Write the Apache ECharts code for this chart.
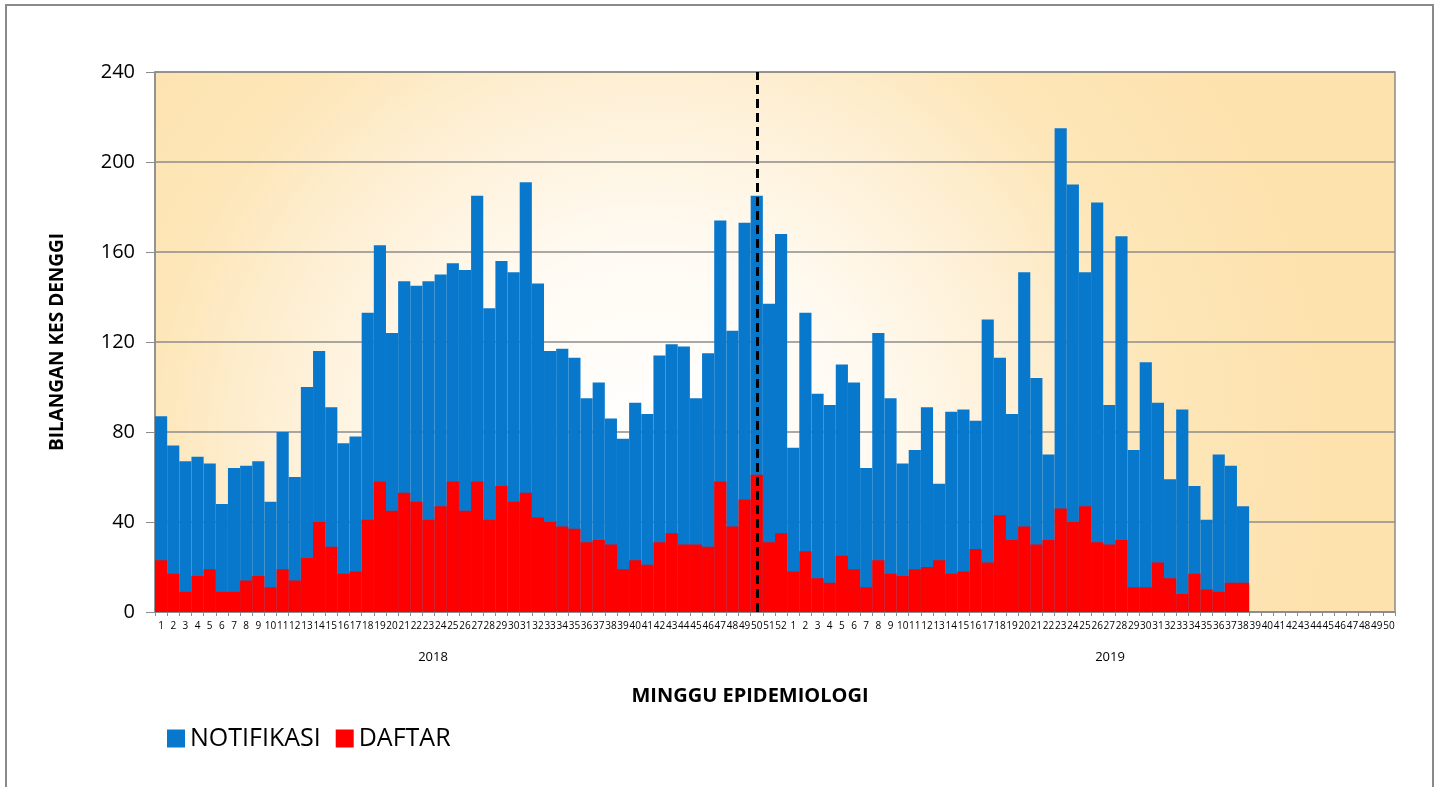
<!DOCTYPE html>
<html lang="ms">
<head>
<meta charset="UTF-8">
<title>Kes Denggi</title>
<script src="https://cdn.jsdelivr.net/npm/echarts@6/dist/echarts.min.js"></script>
<style>
  html, body { margin: 0; padding: 0; background: #fff; }
</style>
</head>
<body>
<div id="main" style="width:1442px;height:787px;"></div>
<script type="text/javascript">
// minggu epidemiologi
var weeks2018 = [1,2,3,4,5,6,7,8,9,10,11,12,13,14,15,16,17,18,19,20,21,22,23,24,25,26,
                 27,28,29,30,31,32,33,34,35,36,37,38,39,40,41,42,43,44,45,46,47,48,49,50,51,52];
var weeks2019 = [1,2,3,4,5,6,7,8,9,10,11,12,13,14,15,16,17,18,19,20,21,22,23,24,25,
                 26,27,28,29,30,31,32,33,34,35,36,37,38,39,40,41,42,43,44,45,46,47,48,49,50];
var years = ['2018', '2019'];

// kes notifikasi (biru)
var notif2018 = [87,74,67,69,66,48,64,65,67,49,80,60,100,116,91,75,78,133,163,124,
                 147,145,147,150,155,152,185,135,156,151,191,146,116,117,113,95,102,86,77,93,
                 88,114,119,118,95,115,174,125,173,185,137,168];
var notif2019 = [73,133,97,92,110,102,64,124,95,66,72,91,57,89,90,85,130,113,88,151,
                 104,70,215,190,151,182,92,167,72,111,93,59,90,56,41,70,65,47];

// kes daftar (merah)
var daftar2018 = [23,17,9,16,19,9,9,14,16,11,19,14,24,40,29,17,18,41,58,45,
                  53,49,41,47,58,45,58,41,56,49,53,42,40,38,37,31,32,30,19,23,
                  21,31,35,30,30,29,58,38,50,61,31,35];
var daftar2019 = [18,27,15,13,25,19,11,23,17,16,19,20,23,17,18,28,22,43,32,38,
                  30,32,46,40,47,31,30,32,11,11,22,15,8,17,10,9,13,13];

var yTicks = [0, 40, 80, 120, 160, 200, 240];
var splitWeek = 50; // garis putus-putus, minggu 50 tahun 2018

var categories = weeks2018.concat(weeks2019).map(String);
function pad(arr) {
    var out = arr.slice();
    while (out.length < weeks2019.length) out.push(null);
    return out;
}
var notifData = notif2018.concat(pad(notif2019));
var daftarData = daftar2018.concat(pad(daftar2019));

var myChart = echarts.init(document.getElementById('main'));

var option = {
    animation: false,
    textStyle: { fontFamily: '"Open Sans", "Noto Sans", sans-serif' },
    graphic: [
        {
            type: 'rect', z: -10, silent: true,
            shape: { x: 6, y: 5, width: 1427, height: 820 },
            style: { fill: null, stroke: '#8a8a8a', lineWidth: 2 }
        },
        {
            type: 'text', x: 433, y: 657,
            style: { text: years[0], fontSize: 13, fill: '#000', align: 'center', verticalAlign: 'middle',
                     fontFamily: '"Open Sans", sans-serif' }
        },
        {
            type: 'text', x: 1110, y: 657,
            style: { text: years[1], fontSize: 13, fill: '#000', align: 'center', verticalAlign: 'middle',
                     fontFamily: '"Open Sans", sans-serif' }
        },
        {
            type: 'text', x: 750, y: 696,
            style: { text: 'MINGGU EPIDEMIOLOGI', fontSize: 20, fontWeight: 'bold', fill: '#000',
                     align: 'center', verticalAlign: 'middle', fontFamily: '"Open Sans", sans-serif' }
        }
    ],
    legend: {
        left: 162,
        top: 721,
        itemWidth: 18,
        itemHeight: 18,
        itemGap: 15,
        icon: 'rect',
        textStyle: { fontSize: 25, color: '#000', fontFamily: '"Open Sans", sans-serif' },
        data: ['NOTIFIKASI', 'DAFTAR']
    },
    grid: {
        left: 155,
        top: 72,
        right: 47,
        bottom: 175,
        show: true,
        outerBoundsMode: 'none',
        borderColor: '#8c8c8c',
        borderWidth: 1.5,
        backgroundColor: new echarts.graphic.RadialGradient(0.4, 0.72, 1.25, [
            { offset: 0, color: '#FFFFFF' },
            { offset: 0.3, color: '#FFFBF4' },
            { offset: 0.55, color: '#FEF0D6' },
            { offset: 0.75, color: '#FDE6B8' },
            { offset: 1, color: '#FDE2AE' }
        ])
    },
    xAxis: {
        type: 'category',
        data: categories,
        axisLine: { lineStyle: { color: '#8c8c8c', width: 1.5 } },
        axisTick: { show: true, length: 4, lineStyle: { color: '#8c8c8c' } },
        axisLabel: { interval: 0, fontSize: 10, color: '#000', margin: 9 },
        splitLine: { show: false }
    },
    yAxis: {
        type: 'value',
        min: yTicks[0],
        max: yTicks[yTicks.length - 1],
        interval: yTicks[1] - yTicks[0],
        name: 'BILANGAN KES DENGGI',
        nameLocation: 'middle',
        nameRotate: 90,
        nameGap: 88,
        nameTextStyle: { fontSize: 19, fontWeight: 'bold', color: '#000' },
        axisLine: { show: true, lineStyle: { color: '#8c8c8c', width: 1.5 } },
        axisTick: { show: true, length: 9, lineStyle: { color: '#8c8c8c' } },
        axisLabel: { fontSize: 20, color: '#000', margin: 20 },
        splitLine: { lineStyle: { color: '#8c8c8c', width: 1.5 } }
    },
    series: [
        {
            name: 'NOTIFIKASI',
            type: 'bar',
            data: notifData,
            barCategoryGap: 0,
            barGap: '-100%',
            itemStyle: { color: '#0878CD' },
            markLine: {
                silent: true,
                symbol: 'none',
                label: { show: false },
                lineStyle: { color: '#000', type: [9, 5], width: 3 },
                data: [{ xAxis: splitWeek - 1 }]
            }
        },
        {
            name: 'DAFTAR',
            type: 'bar',
            data: daftarData,
            barCategoryGap: 0,
            barGap: '-100%',
            itemStyle: { color: '#FF0000' }
        }
    ]
};
myChart.setOption(option);
</script>
</body>
</html>
